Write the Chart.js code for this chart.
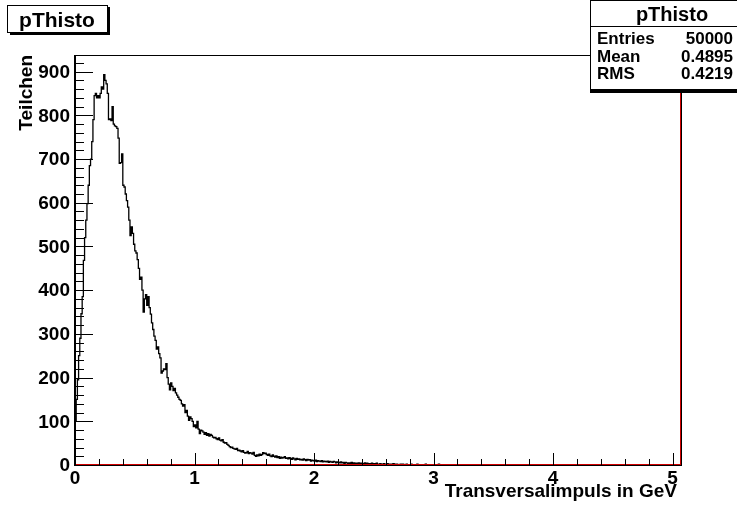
<!DOCTYPE html>
<html>
<head>
<meta charset="utf-8">
<script src="https://cdn.jsdelivr.net/npm/chart.js@4.4.0/dist/chart.umd.min.js"></script>
<style>
body { margin: 0; background: #fff; }
#wrap { width: 737px; height: 508px; }
</style>
</head>
<body>
<div id="wrap"><canvas id="histo" width="737" height="508"></canvas></div>
<script>

// histogram settings (bin width 0.01 GeV)
const binWidth = 0.01;
const xMax = 5.07;
const yMax = 938;

// counts per bin
const counts = [
  45,100,150,195,250,290,346,385,468,520,
  560,598,640,685,700,740,790,845,850,840,
  845,840,850,865,860,893,880,872,850,790,
  792,788,820,780,776,774,770,748,690,692,
  712,640,636,620,605,590,560,525,545,530,
  505,490,485,470,450,425,430,400,350,380,
  390,365,385,360,345,325,310,295,285,265,
  270,255,245,210,215,220,218,232,200,185,
  172,188,180,170,175,165,160,155,150,148,
  140,135,138,120,125,112,102,110,106,100,
  88,92,85,100,82,72,80,78,75,70,
  74,68,72,66,70,68,64,62,63,60,
  58,62,57,55,58,52,50,51,47,45,
  42,40,41,38,37,36,38,33,34,32,
  30,33,29,27,28,31,26,28,27,25,
  29,22,20,23,21,25,22,24,28,26,
  27,24,22,25,21,19,23,20,18,21,
  17,19,15,18,16,17,19,15,16,14,
  17,15,13,16,14,12,15,13,14,12,
  13,11,14,12,10,13,11,12,9,11,
  10,9,11,8,10,9,8,10,7,9,
  8,7,9,6,8,7,6,8,7,5,
  7,6,5,7,5,6,4,6,5,4,
  5,4,6,3,5,4,3,4,5,3,
  4,3,3,5,2,4,3,2,3,4,
  2,3,2,4,2,1,3,2,2,3,
  1,2,3,1,2,2,1,3,1,2,
  2,1,1,2,0,2,1,1,2,1,
  1,0,2,1,1,0,1,2,0,1,
  1,1,0,1,2,0,1,0,1,1,
  0,1,1,0,0,2,0,1,0,1,
  0,0,1,0,1,0,0,1,0,0,
  1,0,0,0,1,0,0,1,0,0,
  0,1,0,0,0,0,1,0,0,0,
  0,0,1,0,0,0,0,1,0,0,
  0,0,0,0,1,0,0,0,0,0,
  0,0,0,1,0,0,0,0,0,0,
  0,0,0,0,0,0,0,0,0,0,
  0,0,0,0,1,0,0,0,0,0,
  0,0,0,0,0,0,0,0,0,0,
  0,0,0,0,0,0,0,0,0,0,
  1,0,0,0,0,0,0,0,0,0,
  0,0,0,0,0,0,0,0,0,0,
  0,0,0,0,0,0,0,0,0,0,
  0,0,0,0,0,0,0,0,0,0,
  0,0,0,0,0,0,0,0,0,0,
  0,0,0,0,0,0,0
];

// the red function line
const redX = [0, 5.07, 5.07];
const redY = [0, 0, 938];

// axis ticks
const xTicks = [0, 1, 2, 3, 4, 5];
const yTicks = [0, 100, 200, 300, 400, 500, 600, 700, 800, 900];

// stats box
const statsTitle = 'pThisto';
const statsNames = ['Entries', 'Mean', 'RMS'];
const statsValues = ['50000', '0.4895', '0.4219'];

const histTitle = 'pThisto';
const xTitle = 'Transversalimpuls in GeV';
const yTitle = 'Teilchen';

const bold = function (size) { return 'bold ' + size + 'px "Liberation Sans", Arial, sans-serif'; };

// build step points from the bins
const histPoints = [{ x: 0, y: 0 }];
counts.forEach((c, i) => histPoints.push({ x: i * binWidth, y: c }));
histPoints.push({ x: counts.length * binWidth, y: 0 });

const redPoints = redX.map((x, i) => ({ x: x, y: redY[i] }));

// ROOT style frame, inward ticks, labels and boxes
const rootStyle = {
  id: 'rootStyle',
  afterDraw(chart) {
    const ctx = chart.ctx;
    const a = chart.chartArea;
    const xs = chart.scales.x;
    const ys = chart.scales.y;

    ctx.save();
    ctx.strokeStyle = '#000';
    ctx.lineWidth = 1;
    ctx.strokeRect(a.left + 0.5, a.top + 0.5, a.right - a.left, a.bottom - a.top);

    // left axis
    ctx.lineWidth = 2;
    ctx.beginPath();
    ctx.moveTo(a.left, a.top);
    ctx.lineTo(a.left, a.bottom + 1);
    ctx.stroke();

    // y ticks every 20, long ones every 100
    ctx.lineWidth = 1;
    ctx.beginPath();
    for (let v = 0; v <= yMax; v += 20) {
      const py = Math.round(ys.getPixelForValue(v)) + 0.5;
      const len = (v % 100 === 0) ? 18 : 9;
      ctx.moveTo(a.left, py);
      ctx.lineTo(a.left + len, py);
    }
    // x ticks every 0.2, long ones on integers
    for (let k = 0; k * 0.2 <= xMax; k++) {
      const px = Math.round(xs.getPixelForValue(k * 0.2)) + 0.5;
      const len = (k % 5 === 0) ? 12 : 6;
      ctx.moveTo(px, a.bottom);
      ctx.lineTo(px, a.bottom - len);
    }
    ctx.stroke();

    // tick labels
    ctx.fillStyle = '#000';
    ctx.font = bold(19);
    ctx.textAlign = 'right';
    ctx.textBaseline = 'middle';
    yTicks.forEach(v => ctx.fillText(String(v), a.left - 5, ys.getPixelForValue(v) + 1));
    ctx.textAlign = 'center';
    ctx.textBaseline = 'top';
    xTicks.forEach(v => ctx.fillText(String(v), xs.getPixelForValue(v), a.bottom + 4));

    // axis titles
    ctx.font = bold(19);
    ctx.textAlign = 'right';
    ctx.textBaseline = 'alphabetic';
    ctx.fillText(xTitle, a.right - 4, 497);
    ctx.save();
    ctx.translate(32, a.top);
    ctx.rotate(-Math.PI / 2);
    ctx.textAlign = 'right';
    ctx.fillText(yTitle, 0, 0);
    ctx.restore();

    // title box
    ctx.fillStyle = '#000';
    ctx.fillRect(10, 7, 100, 28);
    ctx.fillStyle = '#fff';
    ctx.fillRect(7, 5, 101, 28);
    ctx.strokeRect(7.5, 5.5, 100, 27);
    ctx.fillStyle = '#000';
    ctx.font = bold(21);
    ctx.textAlign = 'center';
    ctx.fillText(histTitle, 57, 27);

    // stats box
    ctx.fillStyle = '#000';
    ctx.fillRect(590, 2, 160, 91);
    ctx.fillStyle = '#fff';
    ctx.fillRect(590, 0, 160, 90);
    ctx.strokeRect(590.5, 0.5, 160, 89);
    ctx.beginPath();
    ctx.moveTo(590, 26.5);
    ctx.lineTo(737, 26.5);
    ctx.stroke();
    ctx.fillStyle = '#000';
    ctx.font = bold(20);
    ctx.textAlign = 'center';
    ctx.fillText(statsTitle, 672, 21);
    ctx.font = bold(17);
    statsNames.forEach((n, i) => {
      const y = 44 + i * 17.5;
      ctx.textAlign = 'left';
      ctx.fillText(n, 597, y);
      ctx.textAlign = 'right';
      ctx.fillText(statsValues[i], 733, y);
    });
    ctx.restore();
  }
};

new Chart(document.getElementById('histo'), {
  type: 'line',
  data: {
    datasets: [
      {
        data: redPoints,
        borderColor: '#d00000',
        borderWidth: 2,
        pointRadius: 0,
        clip: false
      },
      {
        data: histPoints,
        borderColor: '#000',
        borderWidth: 1.3,
        pointRadius: 0,
        stepped: 'after'
      }
    ]
  },
  options: {
    responsive: false,
    animation: false,
    devicePixelRatio: 1,
    layout: { padding: { left: 75, right: 56, top: 55, bottom: 43 } },
    plugins: { legend: { display: false }, tooltip: { enabled: false } },
    scales: {
      x: { type: 'linear', min: 0, max: xMax, display: false },
      y: { min: 0, max: yMax, display: false }
    }
  },
  plugins: [rootStyle]
});
</script>
</body>
</html>
